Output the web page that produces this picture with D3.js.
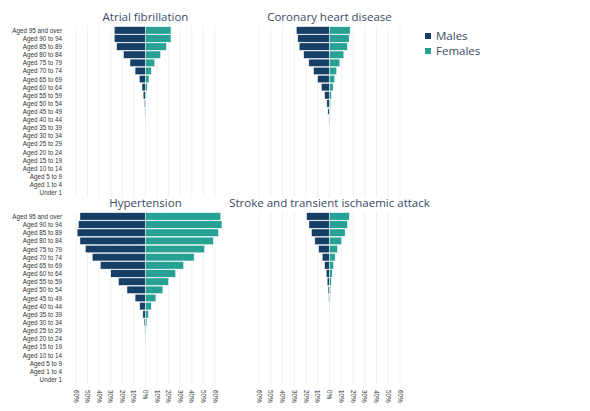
<!DOCTYPE html>
<html><head><meta charset="utf-8">
<script src="https://cdn.jsdelivr.net/npm/d3@7"></script>
<style>body{margin:0;background:#fff}svg{font-family:"Open Sans",sans-serif}</style>
</head><body><svg id="c" width="590" height="411"></svg>
<script>
const ages = ["Aged 95 and over","Aged 90 to 94","Aged 85 to 89","Aged 80 to 84","Aged 75 to 79","Aged 70 to 74","Aged 65 to 69","Aged 60 to 64","Aged 55 to 59","Aged 50 to 54","Aged 45 to 49","Aged 40 to 44","Aged 35 to 39","Aged 30 to 34","Aged 25 to 29","Aged 20 to 24","Aged 15 to 19","Aged 10 to 14","Aged 5 to 9","Aged 1 to 4","Under 1"];
const ticks = [-60,-50,-40,-30,-20,-10,0,10,20,30,40,50,60];
const afMales = [27,27,25,19,13.4,9,5.4,3,2,1,0.5,0.2,0.1,0,0,0,0,0,0,0,0];
const afFemales = [22,22,18,13,8,5,3,1.5,0.8,0.4,0.2,0.1,0.05,0,0,0,0,0,0,0,0];
const chdMales = [28.3,27,25.8,22,17.6,13.6,10.2,7,4.2,2.3,1.4,0.5,0.1,0,0,0,0,0,0,0,0];
const chdFemales = [17.6,16.7,15.3,12.2,8.8,6,4.5,3.1,1.7,1,0.5,0.2,0.05,0,0,0,0,0,0,0,0];
const htMales = [56.6,58,59,56.6,52,46,39,30,23.4,16,9,5,2.3,1.2,0.5,0.2,0,0,0,0,0];
const htFemales = [65,66,63,58.6,51,42,33,26,20,15,9,5,2.6,1.2,0.5,0.2,0,0,0,0,0];
const stMales = [19.5,17.5,15.3,12.5,9.3,6.2,4.2,2.8,2,1.2,0.7,0.3,0.1,0,0,0,0,0,0,0,0];
const stFemales = [17,15.3,13.3,10.2,6.8,4.8,3.4,2.3,1.6,1,0.5,0.3,0.05,0,0,0,0,0,0,0,0];
const panels = [
 {title:"Atrial fibrillation",m:afMales,f:afFemales,x0:76,x1:215,y0:26,y1:197,labels:true,axis:false},
 {title:"Coronary heart disease",m:chdMales,f:chdFemales,x0:259,x1:400,y0:26,y1:197,labels:false,axis:false},
 {title:"Hypertension",m:htMales,f:htFemales,x0:76,x1:215,y0:212,y1:384,labels:true,axis:true},
 {title:"Stroke and transient ischaemic attack",m:stMales,f:stFemales,x0:259,x1:400,y0:212,y1:384,labels:false,axis:true}
];
const cM="#173f66", cF="#26a194", txt="#3a4a66";
const svg=d3.select("#c");
panels.forEach(p=>{
  const x=d3.scaleLinear().domain([-60,60]).range([p.x0,p.x1]);
  const y=d3.scaleBand().domain(ages).range([p.y0,p.y1]).padding(0.08);
  const g=svg.append("g");
  g.selectAll("line.g").data(ticks).join("line").attr("x1",d=>x(d)).attr("x2",d=>x(d))
   .attr("y1",p.y0).attr("y2",p.y1).attr("stroke","#e9edf3").attr("stroke-width",0.8);
  g.selectAll("rect.m").data(p.m).join("rect").attr("x",d=>x(-d)).attr("width",d=>x(0)-x(-d))
   .attr("y",(d,i)=>y(ages[i])).attr("height",y.bandwidth()).attr("fill",cM).attr("stroke","#fff").attr("stroke-width",0.5);
  g.selectAll("rect.f").data(p.f).join("rect").attr("x",x(0)).attr("width",d=>x(d)-x(0))
   .attr("y",(d,i)=>y(ages[i])).attr("height",y.bandwidth()).attr("fill",cF).attr("stroke","#fff").attr("stroke-width",0.5);
  g.append("text").attr("x",x(0)).attr("y",p.y0-5).attr("text-anchor","middle").attr("font-size",11.5)
   .attr("fill",txt).text(p.title);
  if(p.labels){
    g.selectAll("text.l").data(ages).join("text").attr("x",62).attr("y",d=>y(d)+y.bandwidth()/2+2.5)
     .attr("text-anchor","end").attr("font-size",6.3).attr("font-family","Liberation Sans, Arial").attr("fill","#333").text(d=>d);
  }
  if(p.axis){
    g.selectAll("text.t").data(ticks).join("text")
     .attr("transform",d=>`translate(${x(d)-2.5},${p.y1+6}) rotate(90)`)
     .attr("font-size",6.3).attr("font-family","Liberation Sans, Arial").attr("fill","#333").text(d=>Math.abs(d)+"%");
  }
});
const leg=svg.append("g");
[["Males",cM],["Females",cF]].forEach((d,i)=>{
  leg.append("rect").attr("x",425).attr("y",33+i*15).attr("width",6).attr("height",6).attr("fill",d[1]);
  leg.append("text").attr("x",436).attr("y",40+i*15).attr("font-size",11.5).attr("fill",txt).text(d[0]);
});
</script></body></html>
